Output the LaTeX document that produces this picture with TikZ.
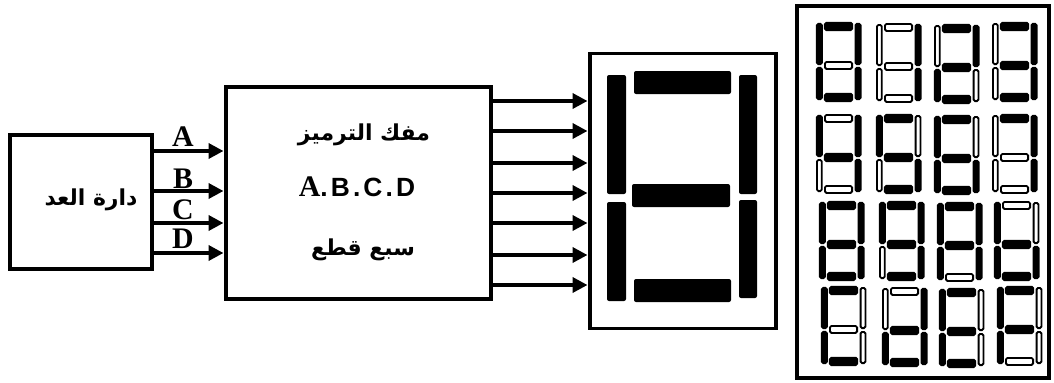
\documentclass[tikz,border=0pt]{standalone}
\usepackage{fontspec}
\usetikzlibrary{arrows.meta}
\setmainfont{Liberation Serif}
\newfontfamily\arabicfont[Script=Arabic]{DejaVu Sans}
\newfontfamily\latinsans[LetterSpace=12]{Liberation Sans}
\TeXXeTstate=1
\def\px{0.02cm}
\tikzset{
  blockbox/.style={draw, line width=3.5*\px, outer sep=0pt},
  busarrow/.style={line width=3.6*\px, -{Triangle[length=15*\px,width=15*\px]}, shorten >=2.5*\px},
  letter/.style={font=\fontsize{17}{17}\bfseries\selectfont, inner sep=0pt},
  arabictext/.style={font=\fontsize{12.5}{15}\arabicfont\bfseries, inner sep=0pt},
  bigseg/.style={fill=black, rounded corners=2*\px},
  segon/.style={draw=black, fill=black, line width=2.2*\px, rounded corners=1.5*\px},
  segoff/.style={draw=black, fill=white, line width=1.8*\px, rounded corners=1.5*\px},
}
\newcommand{\smalldigit}[9]{%
  \begin{scope}[shift={(#1,#2)}]
    \path[seg#3] (8.9,0.9) rectangle (36.1,7.9);
    \path[seg#4] (39.6,1.9) rectangle (44.4,42.1);
    \path[seg#5] (39.6,45.9) rectangle (44.4,77.1);
    \path[seg#6] (8.9,71.9) rectangle (36.1,78.9);
    \path[seg#7] (0.9,45.9) rectangle (5.7,77.1);
    \path[seg#8] (0.9,1.9) rectangle (5.7,42.1);
    \path[seg#9] (8.9,39.9) rectangle (36.1,46.9);
  \end{scope}}
\begin{document}
\begin{tikzpicture}[x=0.02cm,y=-0.02cm]
\useasboundingbox (0,0) rectangle (1054,382);
% blocks
\node[blockbox, minimum width=142*\px, minimum height=134*\px] (counter) at (81,202) {};
\node[blockbox, minimum width=265*\px, minimum height=212*\px] (decoder) at (358.5,193) {};
\node[blockbox, minimum width=186*\px, minimum height=275*\px] (display) at (683,191) {};
\node[blockbox, line width=4*\px, minimum width=252*\px, minimum height=372*\px] (panel) at (923,192) {};
% texts
\node[arabictext] (counterlabel) at (91,200) {\beginR دارة العد\endR};
\node[arabictext] (decodertop) at (364,135) {\beginR مفك الترميز\endR};
\node[inner sep=0pt] (decodermid) at (357,187) {{\fontsize{17}{17}\bfseries\selectfont A}{\fontsize{15}{17}\latinsans\bfseries .B.C.D}};
\node[arabictext] (decoderbot) at (363,250) {\beginR سبع قطع\endR};
% inputs
\foreach \y/\name/\ylab in {151/A/137, 191/B/179, 223/C/210, 253/D/239}{
  \draw[busarrow] (counter.east |- 0,\y) -- (decoder.west |- 0,\y);
  \node[letter] (label\name) at (183,\ylab) {\name};
}
% outputs
\foreach \y in {101,131,163,193,223,255,285}
  \draw[busarrow] (decoder.east |- 0,\y) -- (display.west |- 0,\y);
% big segments
\path[bigseg] (634,71) rectangle (731,94);
\path[bigseg] (632,184) rectangle (730,207);
\path[bigseg] (634,279) rectangle (731,302);
\path[bigseg] (607,75) rectangle (626,194);
\path[bigseg] (607,202) rectangle (626,301);
\path[bigseg] (739,75) rectangle (757,194);
\path[bigseg] (739,200) rectangle (757,298);
% small digits
\smalldigit{816}{22}{on}{on}{on}{on}{on}{on}{off}
\smalldigit{876}{23}{off}{on}{on}{off}{off}{off}{off}
\smalldigit{934}{24}{on}{on}{off}{on}{on}{off}{on}
\smalldigit{992}{22}{on}{on}{on}{on}{off}{off}{on}
\smalldigit{816}{114}{off}{on}{on}{off}{off}{on}{on}
\smalldigit{876}{114}{on}{off}{on}{on}{off}{on}{on}
\smalldigit{934}{115}{on}{off}{on}{on}{on}{on}{on}
\smalldigit{992}{114}{on}{on}{on}{off}{off}{off}{off}
\smalldigit{819}{201}{on}{on}{on}{on}{on}{on}{on}
\smalldigit{879}{201}{on}{on}{on}{on}{off}{on}{on}
\smalldigit{937}{202}{on}{on}{on}{off}{on}{on}{on}
\smalldigit{994}{201}{off}{off}{on}{on}{on}{on}{on}
\smalldigit{821}{286}{on}{off}{off}{on}{on}{on}{off}
\smalldigit{882}{287}{off}{on}{on}{on}{on}{off}{on}
\smalldigit{939}{288}{on}{off}{off}{on}{on}{on}{on}
\smalldigit{997}{286}{on}{off}{off}{off}{on}{on}{on}
\end{tikzpicture}
\end{document}
